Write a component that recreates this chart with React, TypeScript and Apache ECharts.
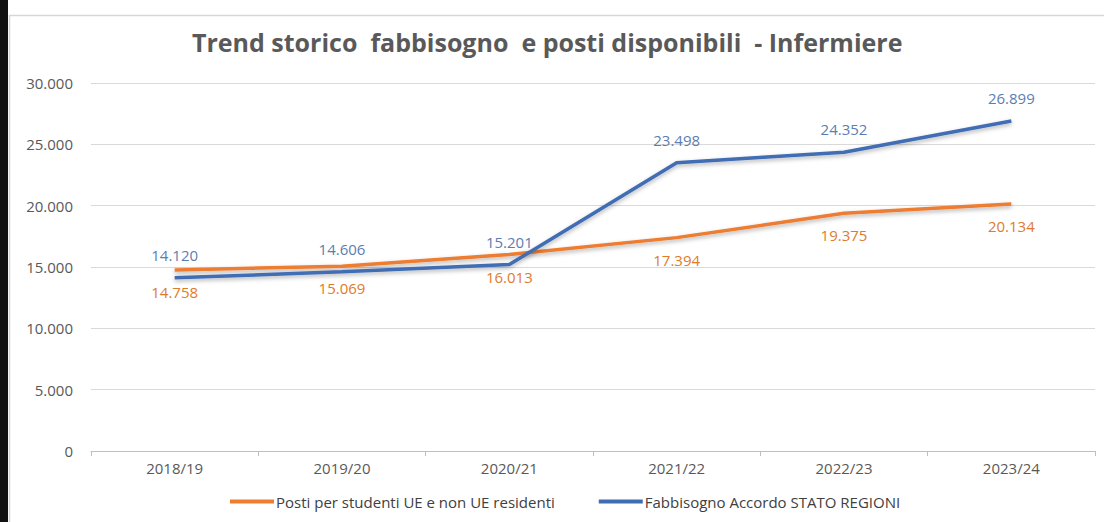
import React, { useEffect, useRef } from "react";
import * as echarts from "echarts";

const categories = ["2018/19", "2019/20", "2020/21", "2021/22", "2022/23", "2023/24"];
const postiStudenti = [14758, 15069, 16013, 17394, 19375, 20134];
const fabbisogno = [14120, 14606, 15201, 23498, 24352, 26899];

const titleText = "Trend storico  fabbisogno  e posti disponibili  - Infermiere";
const seriesNames = ["Posti per studenti UE e non UE residenti", "Fabbisogno Accordo STATO REGIONI"];

const fmt = (n: number) => String(Math.round(n)).replace(/\B(?=(\d{3})+(?!\d))/g, ".");

const FONT = "'Open Sans', 'Noto Sans', sans-serif";

export default function App() {
  const ref = useRef<HTMLDivElement>(null);
  useEffect(() => {
    document.body.style.margin = "0";
    const chart = echarts.init(ref.current!, null, { renderer: "svg" });
    chart.setOption({
      animation: false,
      backgroundColor: "#ffffff",
      textStyle: { fontFamily: FONT },
      graphic: [
        { type: "rect", shape: { x: 0, y: 0, width: 8, height: 522 }, style: { fill: "#111111" }, silent: true },
        {
          type: "rect",
          shape: { x: 9.5, y: 15.5, width: 1110, height: 520 },
          style: { fill: "none", stroke: "#d6d6d6", lineWidth: 1.5 },
          silent: true,
        },
        {
          type: "text",
          left: 192,
          top: 29,
          style: {
            text: titleText,
            fontFamily: FONT,
            fontSize: 25,
            fontWeight: "bold",
            fill: "#595959",
          },
        },
      ],
      grid: { left: 91, right: 9, top: 83, bottom: 71, containLabel: false },
      legend: {
        bottom: 8,
        left: 225,
        itemWidth: 44,
        itemHeight: 4,
        itemGap: 44,
        icon: "rect",
        itemStyle: { opacity: 1 },
        textStyle: { fontFamily: FONT, fontSize: 15, color: "#404040", padding: [0, 0, 0, -3] },
        data: [
          { name: seriesNames[0], itemStyle: { color: "#ED7D31", opacity: 1 } },
          { name: seriesNames[1], itemStyle: { color: "#3F6DB3", opacity: 1 } },
        ],
      },
      xAxis: {
        type: "category",
        data: categories,
        boundaryGap: true,
        axisLine: { lineStyle: { color: "#bfbfbf", width: 1 } },
        axisTick: { show: true, length: 5, lineStyle: { color: "#bfbfbf" } },
        axisLabel: { color: "#595959", fontSize: 15, margin: 9, fontFamily: FONT },
      },
      yAxis: {
        type: "value",
        min: 0,
        max: 30000,
        interval: 5000,
        axisLine: { show: false },
        axisTick: { show: false },
        splitLine: { lineStyle: { color: "#d9d9d9", width: 1 } },
        axisLabel: { color: "#595959", fontSize: 15, margin: 18, formatter: (v: number) => fmt(v), fontFamily: FONT },
      },
      series: [
        {
          name: seriesNames[0],
          type: "line",
          data: postiStudenti,
          symbol: "circle",
          symbolSize: 1,
          itemStyle: { color: "#ED7D31", opacity: 0 },
          color: "#ED7D31",
          z: 3,
          lineStyle: {
            width: 3.5,
            color: "#ED7D31",
            opacity: 1,
            shadowBlur: 4,
            shadowColor: "rgba(0,0,0,0.3)",
            shadowOffsetY: 2,
          },
          label: {
            show: true,
            position: "bottom",
            distance: 14,
            color: "#E07B2B",
            fontSize: 15,
            fontFamily: FONT,
            opacity: 1,
            formatter: (p: any) => fmt(p.value),
          },
        },
        {
          name: seriesNames[1],
          type: "line",
          data: fabbisogno,
          symbol: "circle",
          symbolSize: 1,
          itemStyle: { color: "#4472C4", opacity: 0 },
          color: "#4472C4",
          z: 4,
          lineStyle: {
            width: 3.5,
            color: "#3F6DB3",
            opacity: 1,
            shadowBlur: 4,
            shadowColor: "rgba(0,0,0,0.3)",
            shadowOffsetY: 2,
          },
          label: {
            show: true,
            position: "top",
            distance: 15,
            color: "#5B7DB1",
            fontSize: 15,
            fontFamily: FONT,
            opacity: 1,
            formatter: (p: any) => fmt(p.value),
          },
        },
      ],
    });
    return () => chart.dispose();
  }, []);
  return <div ref={ref} style={{ position: "absolute", left: 0, top: 0, width: 1104, height: 522 }} />;
}
